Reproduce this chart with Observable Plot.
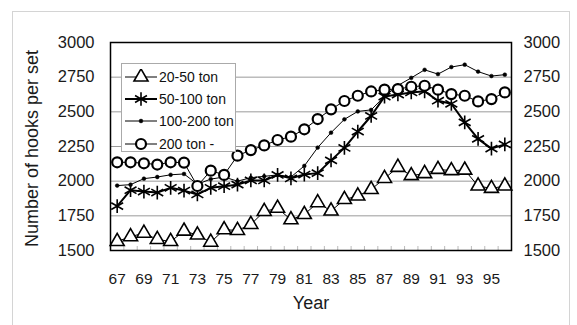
<!DOCTYPE html>
<html>
<head>
<meta charset="utf-8">
<script src="https://cdn.jsdelivr.net/npm/d3@7"></script>
<script src="https://cdn.jsdelivr.net/npm/@observablehq/plot@0.6"></script>
<style>
  html, body { margin: 0; padding: 0; background: #fff; }
  #wrap { position: relative; width: 577px; height: 325px; overflow: hidden; background: #fff; font-family: "Liberation Sans", Arial, sans-serif; }
  #outer { position: absolute; left: 12px; top: 11px; width: 556px; height: 330px; border: 1px solid #d4d4d4; pointer-events: none; }
  #legend { position: absolute; left: 121px; top: 63px; width: 115px; height: 89px; border: 1px solid #aaa; background: #fff; box-sizing: border-box; padding-top: 2px; }
  .row { height: 22.2px; display: flex; align-items: center; font-size: 14px; color: #111; white-space: nowrap; }
  .row svg { display: block; margin-right: 1px; }
</style>
</head>
<body>
<div id="wrap"><div id="outer"></div></div>
<script>
// ---- data ----
const years = [67,68,69,70,71,72,73,74,75,76,77,78,79,80,81,82,83,84,85,86,87,88,89,90,91,92,93,94,95,96];
const seriesNames = ["20-50 ton", "50-100 ton", "100-200 ton", "200 ton -"];
const ton20_50   = [1565,1600,1625,1580,1565,1640,1612,1560,1650,1645,1688,1782,1805,1722,1760,1845,1785,1868,1893,1940,2020,2100,2040,2055,2085,2076,2080,1965,1948,1965];
const ton50_100  = [1820,1935,1925,1918,1952,1932,1904,1952,1964,1975,2005,2005,2045,2020,2048,2058,2150,2240,2358,2470,2610,2625,2640,2648,2580,2558,2424,2305,2235,2265];
const ton100_200 = [1968,1975,2018,2030,2046,2052,1978,2015,2030,2000,2025,2035,2045,2030,2110,2242,2350,2446,2503,2514,2612,2690,2745,2803,2772,2823,2840,2790,2758,2768];
const ton200     = [2136,2136,2129,2120,2136,2134,1965,2076,2045,2184,2224,2258,2297,2321,2374,2448,2518,2578,2616,2647,2660,2664,2681,2688,2660,2628,2616,2575,2592,2640];
const xTickLabels = [67,69,71,73,75,77,79,81,83,85,87,89,91,93,95];
const yTickLabels = [1500,1750,2000,2250,2500,2750,3000];
const xLabel = "Year";
const yLabel = "Number of hooks per set";

const seriesValues = [ton20_50, ton50_100, ton100_200, ton200];
const styles = [
  {symbol: "triangle", r: 5.2, fill: "white", stroke: "black", strokeWidth: 1.6, lineWidth: 1},
  {symbol: "asterisk", r: 6.5, fill: "none", stroke: "black", strokeWidth: 1.6, lineWidth: 2},
  {symbol: "circle", r: 1.9, fill: "black", stroke: "black", strokeWidth: 0.5, lineWidth: 1},
  {symbol: "circle", r: 5, fill: "white", stroke: "black", strokeWidth: 2.2, lineWidth: 1}
];
const rows = seriesValues.map((vals, i) => years.map((yr, j) => ({year: yr, value: vals[j], series: seriesNames[i]})));
const boundaries = years.map(y => y - 0.5).slice(1);

const marks = [
  Plot.gridY(yTickLabels, {stroke: "#9a9a9a", strokeOpacity: 1, strokeWidth: 1}),
  Plot.tickX(boundaries, {stroke: "#bbb", insetTop: 204}),
  Plot.axisY(yTickLabels, {anchor: "left", tickSize: 0, tickPadding: 16, fontSize: 16.5, label: null, tickFormat: d => String(d)}),
  Plot.axisY(yTickLabels, {anchor: "right", tickSize: 0, tickPadding: 12, fontSize: 16.5, label: null, tickFormat: d => String(d)}),
  Plot.axisX(xTickLabels, {anchor: "bottom", tickSize: 0, tickPadding: 22, fontSize: 15.5, label: null, tickFormat: d => String(d)}),
  Plot.text([yLabel], {frameAnchor: "left", textAnchor: "middle", lineAnchor: "middle", rotate: -90, dx: -78, dy: 2, fontSize: 18}),
  Plot.text([xLabel], {frameAnchor: "bottom", textAnchor: "middle", lineAnchor: "middle", dy: 53, fontSize: 18})
];
rows.forEach((data, i) => {
  const s = styles[i];
  marks.push(Plot.line(data, {x: "year", y: "value", stroke: "black", strokeWidth: s.lineWidth}));
  marks.push(Plot.dot(data, {x: "year", y: "value", symbol: s.symbol, r: s.r, fill: s.fill, stroke: s.stroke, strokeWidth: s.strokeWidth}));
});
marks.push(Plot.frame({stroke: "black", strokeWidth: 1.5}));

const chart = Plot.plot({
  width: 577, height: 325,
  marginLeft: 110, marginRight: 66, marginTop: 42, marginBottom: 75,
  style: {fontFamily: "'Liberation Sans', Arial, sans-serif", color: "#1a1a1a", background: "transparent", overflow: "visible"},
  x: {type: "linear", domain: [66.5, 96.5]},
  y: {domain: [1500, 3000]},
  marks
});
const wrap = document.getElementById("wrap");
wrap.insertBefore(chart, wrap.firstChild);

// legend
const legend = d3.select(wrap).append("div").attr("id", "legend");
seriesNames.forEach((name, i) => {
  const s = styles[i];
  const row = legend.append("div").attr("class", "row");
  const svg = row.append("svg").attr("width", 36).attr("height", 16);
  svg.append("line").attr("x1", 3).attr("x2", 35).attr("y1", 8).attr("y2", 8).attr("stroke", "black").attr("stroke-width", s.lineWidth);
  const sym = s.symbol === "triangle" ? d3.symbolTriangle : s.symbol === "asterisk" ? d3.symbolAsterisk : d3.symbolCircle;
  const area = (s.r * s.r) * Math.PI;
  svg.append("path").attr("transform", "translate(19,8)").attr("d", d3.symbol(sym, area)())
    .attr("fill", s.fill).attr("stroke", s.stroke).attr("stroke-width", s.strokeWidth);
  row.append("span").text(name);
});
</script>
</body>
</html>
